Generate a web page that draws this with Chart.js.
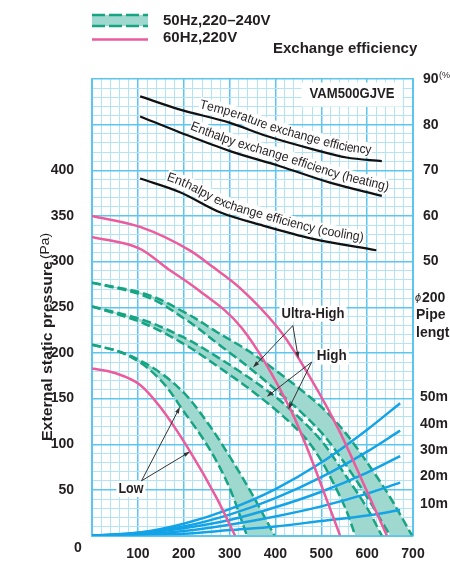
<!DOCTYPE html>
<html>
<head>
<meta charset="utf-8">
<script src="https://cdn.jsdelivr.net/npm/chart.js@4.4.1/dist/chart.umd.min.js"></script>
<style>
  html, body { margin: 0; padding: 0; background: #fff; }
  #wrap { width: 450px; height: 562px; }
</style>
</head>
<body>
<div id="wrap"><canvas id="fanChart" width="450" height="562"></canvas></div>
<script>
// ---- data (airflow m3/h, pressure Pa) ----

// 60Hz 220V (pink)
const pinkUltraFlow = [0, 105, 214, 264, 323, 406, 447, 536, 600, 643];
const pinkUltraPa   = [350, 338, 312, 294, 271, 227, 197, 118, 48, 0];
const pinkHighFlow  = [0, 105, 166, 229, 327, 432, 469, 486, 541];
const pinkHighPa    = [327, 314, 292, 270, 227, 139, 96, 74, 0];
const pinkLowFlow   = [0, 50, 105, 150, 214, 272, 312];
const pinkLowPa     = [183, 178, 165, 140, 92, 41, 0];

// 50Hz 220-240V bands (240V edge / 220V edge)
const ultra240Flow = [0, 100, 200, 272, 345, 400, 450, 500, 547, 600, 650, 698];
const ultra240Pa   = [277, 267, 245, 223, 201, 181, 162, 141, 116, 80, 42, 0];
const ultra220Flow = [0, 100, 200, 272, 345, 400, 450, 500, 550, 600, 650];
const ultra220Pa   = [277, 265, 238, 211, 183, 160, 138, 113, 80, 42, 0];
const high240Flow  = [0, 100, 200, 272, 345, 400, 450, 500, 550, 600, 632];
const high240Pa    = [251, 238, 217, 196, 172, 152, 130, 104, 68, 30, 0];
const high220Flow  = [0, 100, 200, 272, 345, 400, 440, 470, 500, 530, 555, 574];
const high220Pa    = [251, 235, 210, 186, 160, 138, 120, 104, 82, 54, 27, 0];
const low240Flow   = [0, 50, 100, 150, 199, 250, 286, 345, 398];
const low240Pa     = [209, 203, 193, 178, 157, 125, 98, 49, 0];
const low220Flow   = [0, 50, 100, 150, 200, 250, 295, 338];
const low220Pa     = [209, 203, 191, 170, 136, 100, 58, 0];

// duct resistance, phi200 pipe
const pipeFlow = [0, 100, 200, 300, 400, 500, 600, 672];
const pipe50m  = [0, 3, 13, 29, 51, 80, 116, 145];
const pipe40m  = [0, 3, 10, 23, 41, 64, 92, 115];
const pipe30m  = [0, 2, 8, 17, 31, 48, 69, 87];
const pipe20m  = [0, 1, 5, 12, 21, 32, 46, 58];
const pipe10m  = [0, 1, 2, 6, 10, 16, 22, 28];
const pipeNames = ['50m', '40m', '30m', '20m', '10m'];

// exchange efficiency (%)
const tempEffFlow = [105, 192, 301, 381, 482, 555, 632];
const tempEff     = [86.2, 83.3, 80.4, 77.5, 74.6, 72.8, 72.0];
const heatEffFlow = [105, 192, 301, 410, 519, 632];
const heatEff     = [81.8, 78.3, 74.2, 70.9, 67.3, 64.4];
const coolEffFlow = [105, 192, 279, 373, 482, 620];
const coolEff     = [68.2, 65.2, 60.8, 57.9, 55.0, 52.5];

const INK = '#231f20';
const PINK = '#eb5b9d';
const GREEN = '#16a482';
const TEAL_FILL = '#9fd8ce';
const BLUE = '#13a3e6';
const MAJOR = '#5cc6ef';
const MINOR = '#b4e3f6';
const FONT = '"Liberation Sans", Arial, Helvetica, sans-serif';

function pts(xs, ys) {
    return xs.map((v, i) => ({ x: v, y: ys[i] }));
}

function bandLine(flow, pa, fill) {
    return {
        data: pts(flow, pa),
        indexAxis: 'y',
        borderColor: GREEN,
        borderWidth: 2.5,
        borderDash: [9, 4],
        backgroundColor: TEAL_FILL,
        fill: fill,
        cubicInterpolationMode: 'monotone'
    };
}

function plainLine(flow, vals, color, width, axis) {
    return {
        data: pts(flow, vals),
        borderColor: color,
        borderWidth: width,
        fill: false,
        cubicInterpolationMode: 'monotone',
        yAxisID: axis || 'y'
    };
}

const pipeSets = [pipe50m, pipe40m, pipe30m, pipe20m, pipe10m];

const datasets = [
    plainLine(tempEffFlow, tempEff, '#111', 2.2, 'yEff'),
    plainLine(heatEffFlow, heatEff, '#111', 2.2, 'yEff'),
    plainLine(coolEffFlow, coolEff, '#111', 2.2, 'yEff'),
    plainLine(pinkUltraFlow, pinkUltraPa, PINK, 2.5),
    plainLine(pinkHighFlow, pinkHighPa, PINK, 2.5),
    plainLine(pinkLowFlow, pinkLowPa, PINK, 2.5),
    ...pipeSets.map(p => plainLine(pipeFlow, p, BLUE, 2.5)),
    bandLine(ultra240Flow, ultra240Pa, '+1'),
    bandLine(ultra220Flow, ultra220Pa, false),
    bandLine(high240Flow, high240Pa, '+1'),
    bandLine(high220Flow, high220Pa, false),
    bandLine(low240Flow, low240Pa, '+1'),
    bandLine(low220Flow, low220Pa, false)
];

// labels that follow the efficiency curves (dataset index, start flow, length px)
const curveNotes = [
    { ds: 0, text: 'Temperature exchange efficiency', from: 230, len: 178 },
    { ds: 1, text: 'Enthalpy exchange efficiency (heating)', from: 208, len: 208 },
    { ds: 2, text: 'Enthalpy exchange efficiency (cooling)', from: 156, len: 208 }
];

// flat labels, anchored in data units
const notes = [
    { text: 'VAM500GJVE', flow: 567, pa: 483, width: 85, padX: 8, padY: 5 },
    { text: 'Ultra-High', flow: 482, pa: 243, width: 63 },
    { text: 'High', flow: 523, pa: 196, width: 30 },
    { text: 'Low', flow: 85, pa: 51, width: 25 }
];

const arrows = [
    [438, 230, 351, 184], [438, 230, 450, 194],
    [479, 190, 381, 152], [479, 190, 428, 138],
    [108, 60, 192, 141], [108, 60, 214, 92]
];

function drawNote(chart, n, bgPass) {
    const ctx = chart.ctx;
    const px = chart.scales.x.getPixelForValue(n.flow);
    const py = chart.scales.y.getPixelForValue(n.pa);
    ctx.save();
    ctx.translate(px, py);
    ctx.font = 'bold 14px ' + FONT;
    const w = ctx.measureText(n.text).width;
    const sx = n.width / w;
    if (bgPass) {
        const padX = n.padX || 2, padY = n.padY || 1;
        ctx.fillStyle = '#fff';
        ctx.fillRect(-w * sx / 2 - padX, -7 - padY, w * sx + padX * 2, 14 + padY * 2);
    } else {
        ctx.scale(sx, 1);
        ctx.fillStyle = INK;
        ctx.textAlign = 'center';
        ctx.textBaseline = 'middle';
        ctx.fillText(n.text, 0, 0);
    }
    ctx.restore();
}

// sample the drawn spline of a dataset into a dense polyline
function curvePath(chart, idx) {
    const line = chart.getDatasetMeta(idx).dataset;
    const p = line.points;
    const out = [];
    for (let i = 0; i < p.length - 1; i++) {
        const a = p[i], b = p[i + 1];
        const c1x = a.cp2x !== undefined ? a.cp2x : a.x, c1y = a.cp2y !== undefined ? a.cp2y : a.y;
        const c2x = b.cp1x !== undefined ? b.cp1x : b.x, c2y = b.cp1y !== undefined ? b.cp1y : b.y;
        for (let k = 0; k < 20; k++) {
            const t = k / 20, u = 1 - t;
            out.push({
                x: u * u * u * a.x + 3 * u * u * t * c1x + 3 * u * t * t * c2x + t * t * t * b.x,
                y: u * u * u * a.y + 3 * u * u * t * c1y + 3 * u * t * t * c2y + t * t * t * b.y
            });
        }
    }
    out.push({ x: p[p.length - 1].x, y: p[p.length - 1].y });
    return out;
}

function curveText(chart, n, bgPass) {
    const ctx = chart.ctx;
    const path = curvePath(chart, n.ds);
    const cum = [0];
    for (let i = 1; i < path.length; i++) {
        cum.push(cum[i - 1] + Math.hypot(path[i].x - path[i - 1].x, path[i].y - path[i - 1].y));
    }
    const at = s => {
        let i = 0;
        while (i < path.length - 2 && cum[i + 1] < s) i++;
        const seg = cum[i + 1] - cum[i] || 1;
        const t = (s - cum[i]) / seg;
        return {
            x: path[i].x + (path[i + 1].x - path[i].x) * t,
            y: path[i].y + (path[i + 1].y - path[i].y) * t,
            a: Math.atan2(path[i + 1].y - path[i].y, path[i + 1].x - path[i].x)
        };
    };
    const startPx = chart.scales.x.getPixelForValue(n.from);
    let s = 0;
    for (let i = 0; i < path.length; i++) {
        if (path[i].x >= startPx) { s = cum[i]; break; }
    }
    ctx.save();
    ctx.font = '13px ' + FONT;
    const k = n.len / ctx.measureText(n.text).width;
    const off = 10;
    for (const ch of n.text) {
        const cw = ctx.measureText(ch).width * k;
        const p = at(s + cw / 2);
        ctx.save();
        ctx.translate(p.x + Math.sin(p.a) * off, p.y - Math.cos(p.a) * off);
        ctx.rotate(p.a);
        if (bgPass) {
            ctx.fillStyle = '#fff';
            ctx.fillRect(-cw / 2 - 0.6, -7.5, cw + 1.2, 15);
        } else {
            ctx.scale(k, 1);
            ctx.fillStyle = INK;
            ctx.textAlign = 'center';
            ctx.textBaseline = 'middle';
            ctx.fillText(ch, 0, 0);
        }
        ctx.restore();
        s += cw;
    }
    ctx.restore();
}

function drawArrow(ctx, x1, y1, x2, y2) {
    const a = Math.atan2(y2 - y1, x2 - x1);
    ctx.beginPath();
    ctx.moveTo(x1, y1);
    ctx.lineTo(x2 - Math.cos(a) * 4, y2 - Math.sin(a) * 4);
    ctx.stroke();
    ctx.beginPath();
    ctx.moveTo(x2, y2);
    ctx.lineTo(x2 - 7 * Math.cos(a - 0.3), y2 - 7 * Math.sin(a - 0.3));
    ctx.lineTo(x2 - 7 * Math.cos(a + 0.3), y2 - 7 * Math.sin(a + 0.3));
    ctx.closePath();
    ctx.fill();
}

const decor = {
    id: 'decor',
    beforeDatasetsDraw(chart) {
        notes.forEach(n => drawNote(chart, n, true));
        curveNotes.forEach(n => curveText(chart, n, true));
    },
    afterDatasetsDraw(chart) {
        const ctx = chart.ctx;
        const xs = chart.scales.x, ys = chart.scales.y;
        notes.forEach(n => drawNote(chart, n, false));
        curveNotes.forEach(n => curveText(chart, n, false));
        ctx.save();
        ctx.strokeStyle = '#333';
        ctx.fillStyle = '#333';
        ctx.lineWidth = 1;
        arrows.forEach(a => drawArrow(ctx, xs.getPixelForValue(a[0]), ys.getPixelForValue(a[1]),
            xs.getPixelForValue(a[2]), ys.getPixelForValue(a[3])));
        ctx.restore();
    },
    afterDraw(chart) {
        const ctx = chart.ctx;
        const area = chart.chartArea;
        const ys = chart.scales.y;
        ctx.save();
        ctx.textBaseline = 'middle';

        // legend: 50Hz band symbol and 60Hz line
        ctx.fillStyle = TEAL_FILL;
        ctx.fillRect(92, 15, 56, 11);
        ctx.strokeStyle = GREEN;
        ctx.lineWidth = 2.5;
        ctx.setLineDash([13, 4]);
        ctx.beginPath();
        ctx.moveTo(92, 15); ctx.lineTo(148, 15);
        ctx.moveTo(92, 26); ctx.lineTo(148, 26);
        ctx.stroke();
        ctx.setLineDash([]);
        ctx.strokeStyle = PINK;
        ctx.lineWidth = 2.5;
        ctx.beginPath();
        ctx.moveTo(92, 39.5); ctx.lineTo(148, 39.5);
        ctx.stroke();

        ctx.fillStyle = INK;
        ctx.textAlign = 'left';
        ctx.font = 'bold 15px ' + FONT;
        ctx.fillText('50Hz,220\u2013240V', 163, 21, 110);
        ctx.fillText('60Hz,220V', 163, 38, 76);
        ctx.fillText('Exchange efficiency', 273, 49, 146);

        // right side: units and pipe labels
        ctx.font = '9px ' + FONT;
        ctx.fillText('(%)', 439, 76);
        ctx.font = 'bold 14px ' + FONT;
        pipeSets.forEach((p, i) => {
            ctx.fillText(pipeNames[i], area.right + 7, ys.getPixelForValue(p[p.length - 1]) - 6);
        });
        ctx.font = 'italic 11px ' + FONT;
        ctx.fillText('\u03d5', 415, 298);
        ctx.font = 'bold 14px ' + FONT;
        ctx.fillText('200', 422, 298);
        ctx.fillText('Pipe', 416, 315);
        ctx.fillText('length', 416, 333);

        // origin label
        ctx.textAlign = 'center';
        ctx.fillText('0', 78, 548);

        // y title
        ctx.translate(48, 337);
        ctx.rotate(-Math.PI / 2);
        const t1 = 'External static pressure';
        const t2 = '(Pa)';
        ctx.font = 'bold 15px ' + FONT;
        const w1 = ctx.measureText(t1).width;
        ctx.font = '13px ' + FONT;
        const w2 = ctx.measureText(t2).width;
        const total = w1 + 2 + w2;
        ctx.scale(208 / total, 1);
        ctx.textAlign = 'left';
        ctx.font = 'bold 15px ' + FONT;
        ctx.fillText(t1, -total / 2, 0);
        ctx.font = '13px ' + FONT;
        ctx.fillText(t2, -total / 2 + w1 + 2, -3);
        ctx.restore();
    }
};

const tickFont = { family: FONT, size: 14, weight: 'bold' };

new Chart(document.getElementById('fanChart'), {
    type: 'line',
    data: { datasets: datasets },
    options: {
        responsive: false,
        animation: false,
        layout: { padding: { top: 79, left: 0, right: 0, bottom: 0 } },
        elements: { point: { radius: 0 } },
        plugins: {
            legend: { display: false },
            tooltip: { enabled: false },
            filler: { drawTime: 'beforeDatasetsDraw' }
        },
        scales: {
            x: {
                type: 'linear',
                min: 0,
                max: 700,
                afterFit: s => { s.height = 24; },
                ticks: {
                    stepSize: 20,
                    autoSkip: false,
                    maxRotation: 0,
                    padding: 10,
                    color: INK,
                    font: tickFont,
                    callback: v => (v % 100 === 0 && v > 0 ? v : '')
                },
                grid: {
                    drawTicks: false,
                    color: c => (c.tick && c.tick.value % 100 === 0 ? MAJOR : MINOR),
                    lineWidth: c => (c.tick && c.tick.value % 100 === 0 ? 1.5 : 1)
                },
                border: { color: MAJOR, width: 2 }
            },
            y: {
                type: 'linear',
                position: 'left',
                min: 0,
                max: 500,
                afterFit: s => { s.width = 92; },
                ticks: {
                    stepSize: 10,
                    autoSkip: false,
                    padding: 18,
                    color: INK,
                    font: tickFont,
                    callback: v => (v % 50 === 0 && v > 0 && v <= 400 ? v : '')
                },
                grid: {
                    drawTicks: false,
                    color: c => (c.tick && c.tick.value % 50 === 0 ? MAJOR : MINOR),
                    lineWidth: c => (c.tick && c.tick.value % 50 === 0 ? 1.5 : 1)
                },
                border: { color: MAJOR, width: 2 }
            },
            yEff: {
                type: 'linear',
                position: 'right',
                min: -10,
                max: 90,
                afterFit: s => { s.width = 37; },
                ticks: {
                    stepSize: 10,
                    autoSkip: false,
                    padding: 10,
                    color: INK,
                    font: tickFont,
                    callback: v => (v >= 50 ? v : '')
                },
                grid: { display: false, drawTicks: false },
                border: { color: MAJOR, width: 2 }
            }
        }
    },
    plugins: [decor]
});
</script>
</body>
</html>
